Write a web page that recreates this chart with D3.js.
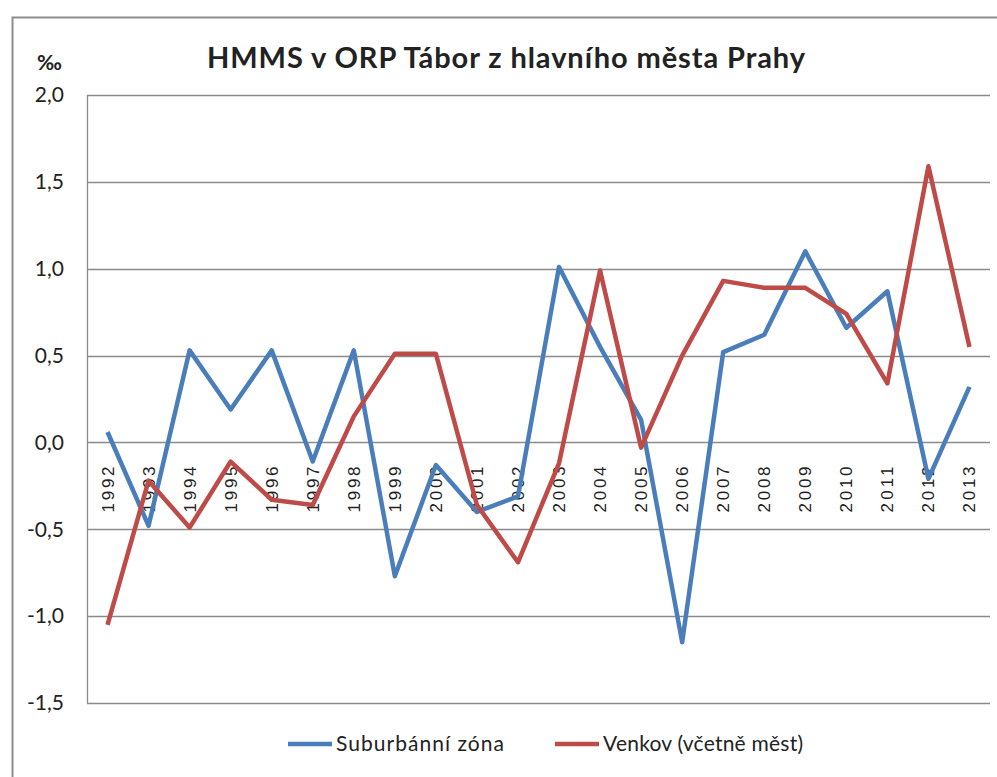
<!DOCTYPE html>
<meta charset="utf-8">
<script src="https://d3js.org/d3.v7.min.js"></script>
<style>
body { margin: 0; background: #fff; }
text { font-family: Lato, "Open Sans", sans-serif; fill: #222; }
</style>
<div id="chart"></div>
<script>
// data
const years = ["1992","1993","1994","1995","1996","1997","1998","1999","2000","2001","2002",
               "2003","2004","2005","2006","2007","2008","2009","2010","2011","2012","2013"];
const suburbanni = [0.06,-0.48,0.53,0.19,0.53,-0.11,0.53,-0.77,-0.13,-0.40,-0.31,
                    1.01,0.55,0.13,-1.15,0.52,0.62,1.10,0.66,0.87,-0.21,0.32];
const venkov = [-1.05,-0.22,-0.49,-0.11,-0.33,-0.36,0.15,0.51,0.51,-0.36,-0.69,
                -0.12,0.99,-0.03,0.50,0.93,0.89,0.89,0.74,0.34,1.59,0.55];
const yTicks = [2.0,1.5,1.0,0.5,0.0,-0.5,-1.0,-1.5];
const seriesNames = ["Suburbánní zóna","Venkov (včetně měst)"];
const colors = ["#4A7EBB","#BE4B48"];

const W = 997, H = 777;
const plot = {left: 87, right: 990, top: 95, bottom: 703};

const svg = d3.select("#chart").append("svg")
  .attr("width", W).attr("height", H);

// outer chart border
svg.append("rect")
  .attr("x", 12.5).attr("y", 17.5)
  .attr("width", W + 20).attr("height", H + 20)
  .attr("fill", "none").attr("stroke", "#8c8c8c").attr("stroke-width", 2);

const x = d3.scaleBand().domain(years).range([plot.left, plot.right]);
const y = d3.scaleLinear().domain([-1.5, 2.0]).range([plot.bottom, plot.top]);

// gridlines
svg.append("g").selectAll("line")
  .data(yTicks).enter().append("line")
  .attr("x1", plot.left).attr("x2", plot.right)
  .attr("y1", d => Math.round(y(d)) + 0.5).attr("y2", d => Math.round(y(d)) + 0.5)
  .attr("stroke", "#8a8a8a").attr("stroke-width", 1.3);

// left axis line
svg.append("line")
  .attr("x1", plot.left + 0.5).attr("x2", plot.left + 0.5)
  .attr("y1", plot.top).attr("y2", plot.bottom)
  .attr("stroke", "#8a8a8a").attr("stroke-width", 1.3);

// y tick labels
const fmt = d => d3.format(".1f")(d).replace(".", ",").replace("−", "-");
svg.append("g").selectAll("text")
  .data(yTicks).enter().append("text")
  .attr("x", 64).attr("y", d => y(d))
  .attr("dy", "0.35em")
  .attr("text-anchor", "end")
  .style("font-size", "21px")
  .text(fmt);

// unit label
svg.append("text")
  .attr("x", 37).attr("y", 70)
  .style("font-size", "21px").style("font-weight", "bold")
  .text("‰");

// x category labels, rotated, hanging under the zero line
svg.append("g").selectAll("text")
  .data(years).enter().append("text")
  .attr("transform", d => `translate(${x(d) + x.bandwidth() / 2 + 6},${y(0) + 24}) rotate(-90)`)
  .attr("text-anchor", "end")
  .attr("textLength", 46)
  .style("font-family", "'Liberation Sans', Arial, sans-serif")
  .style("font-size", "17px")
  .text(d => d);

// lines
const line = d3.line()
  .x((d, i) => x(years[i]) + x.bandwidth() / 2)
  .y(d => y(d));

[suburbanni, venkov].forEach((s, k) => {
  svg.append("path")
    .datum(s)
    .attr("d", line)
    .attr("fill", "none")
    .attr("stroke", colors[k])
    .attr("stroke-width", 4.5)
    .attr("stroke-linejoin", "round");
});

// title
svg.append("text")
  .attr("x", 506).attr("y", 68)
  .attr("text-anchor", "middle")
  .attr("textLength", 598)
  .style("font-size", "29px").style("font-weight", "bold")
  .text("HMMS v ORP Tábor z hlavního města Prahy");

// legend
const legendX = [288, 555];
const legendW = [168, 200];
seriesNames.forEach((name, k) => {
  svg.append("line")
    .attr("x1", legendX[k]).attr("x2", legendX[k] + 44)
    .attr("y1", 744).attr("y2", 744)
    .attr("stroke", colors[k]).attr("stroke-width", 4.5);
  svg.append("text")
    .attr("x", legendX[k] + 48).attr("y", 744)
    .attr("dy", "0.35em")
    .attr("textLength", legendW[k])
    .style("font-size", "21px")
    .text(name);
});
</script>
